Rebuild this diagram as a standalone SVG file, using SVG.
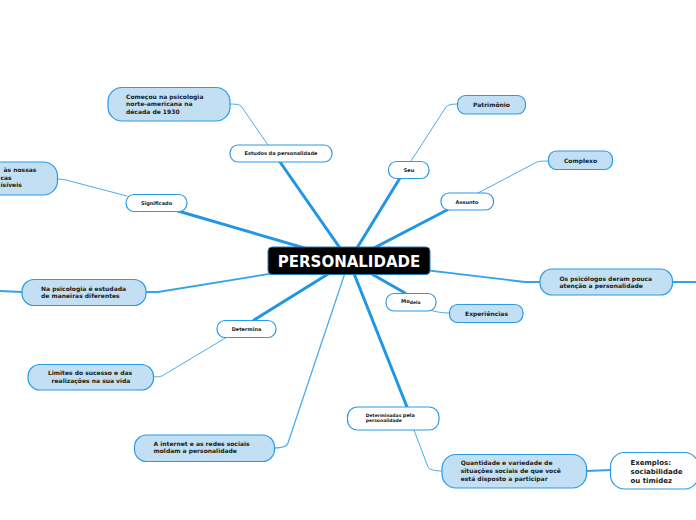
<svg xmlns="http://www.w3.org/2000/svg" width="696" height="520" viewBox="0 0 696 520">
<style>
text{font-family:"DejaVu Sans",Verdana,sans-serif;font-weight:bold;fill:#1a1a1a}
.main{fill:none;stroke:#2196e3;stroke-width:3;stroke-linecap:round}
.mid{fill:none;stroke:#35a2e8;stroke-width:1.8;stroke-linecap:round}
.sub{fill:none;stroke:#4aaeea;stroke-width:1;stroke-linecap:round}
.blue{fill:#c2dff3;stroke:#2b9be3;stroke-width:1.2}
.white{fill:#fff;stroke:#2b9be3;stroke-width:1.2}
.t6{font-size:6px}
.t5{font-size:5px}
.t7{font-size:7px}
.c{text-anchor:middle}
</style>
<rect width="696" height="520" fill="#fff"/>
<g id="connectors">
<line class="main" x1="349" y1="261" x2="280" y2="162"/>
<line class="main" x1="349" y1="261" x2="178" y2="211"/>
<line class="main" x1="349" y1="261" x2="400" y2="178"/>
<line class="main" x1="349" y1="261" x2="447" y2="210"/>
<line class="main" x1="349" y1="261" x2="254" y2="320"/>
<line class="main" x1="349" y1="261" x2="405" y2="293"/>
<line class="main" x1="349" y1="261" x2="407" y2="407"/>
<path class="mid" d="M349 261 L525 282 L540 282"/>
<path class="mid" d="M349 261 L158 292 L146 292"/>
<path class="sub" style="stroke-width:1.3" d="M349 261 L288 443 Q286 448 275 448"/>
<line class="mid" x1="673" y1="282" x2="696" y2="282"/>
<line class="mid" x1="22" y1="292" x2="0" y2="291"/>
<path class="sub" d="M268 145 L241 106 Q239 104 230 104"/>
<path class="sub" d="M127 196 L66 180 Q63 179 57 179"/>
<path class="sub" d="M411 161 L446 107 Q448 104 457 104"/>
<path class="sub" d="M478 193 L537 162 Q539 161 548 161"/>
<path class="sub" d="M227 337 L162 376 Q160 377 153 377"/>
<path class="sub" d="M428 309 Q436 313 450 313"/>
<path class="sub" d="M414 430 L428 467 Q430 471 442 471"/>
<path class="mid" d="M586 471 L611 470"/>
</g>
<g id="center">
<rect x="268" y="247" width="162" height="27.5" rx="4" fill="#000" stroke="#2b7fc0" stroke-width="1"/>
<text x="349" y="267" font-size="15" class="c" style="fill:#fff">PERSONALIDADE</text>
</g>
<g id="n-estudos">
<rect class="white" x="230" y="145" width="102" height="17" rx="8"/>
<text class="t5 c" x="281" y="155">Estudos da personalidade</text>
</g>
<g id="n-comecou">
<rect class="blue" x="108" y="87.5" width="122" height="33.5" rx="14"/>
<text class="t6" x="126"><tspan x="126" y="98.5">Começou na psicologia</tspan><tspan x="126" y="106.2">norte-americana na</tspan><tspan x="126" y="114">década de 1930</tspan></text>
</g>
<g id="n-significado">
<rect class="white" x="126" y="194.5" width="61" height="17" rx="8"/>
<text class="t5 c" x="156.5" y="204.7">Significado</text>
</g>
<g id="n-left">
<rect class="blue" x="-80" y="162" width="137.5" height="33" rx="14"/>
<text class="t6"><tspan x="3.5" y="172">às nossas</tspan><tspan x="0.5" y="179.6">cas</tspan><tspan x="0.5" y="187.2">ísíveis</tspan></text>
</g>
<g id="n-seu">
<rect class="white" x="388.5" y="161.5" width="40.5" height="17" rx="8"/>
<text class="t5 c" x="409" y="171.8">Seu</text>
</g>
<g id="n-patrimonio">
<rect class="blue" x="457.5" y="95.5" width="68" height="18.5" rx="8"/>
<text class="t6 c" x="491.5" y="106.8">Patrimônio</text>
</g>
<g id="n-assunto">
<rect class="white" x="441" y="193" width="52.5" height="17" rx="8"/>
<text class="t5 c" x="467" y="203.8">Assunto</text>
</g>
<g id="n-complexo">
<rect class="blue" x="548.5" y="151" width="64" height="18.5" rx="8"/>
<text class="t6 c" x="580.5" y="162.6">Complexo</text>
</g>
<g id="n-psicologos">
<rect class="blue" x="540" y="269" width="132.5" height="26" rx="12"/>
<text class="t6"><tspan x="559.5" y="280.6">Os psicólogos deram pouca</tspan><tspan x="559.5" y="288.2">atenção a personalidade</tspan></text>
</g>
<g id="n-napsicologia">
<rect class="blue" x="22" y="279.5" width="124" height="26" rx="12"/>
<text class="t6"><tspan x="41" y="290.8">Na psicologia é estudada</tspan><tspan x="41" y="298">de maneiras diferentes</tspan></text>
</g>
<g id="n-modela">
<rect class="white" x="386" y="293.5" width="50" height="17.5" rx="8"/>
<text x="401" y="303"><tspan font-size="5.2">Mo</tspan><tspan font-size="4.5" dy="0.6">dela</tspan></text>
</g>
<g id="n-experiencias">
<rect class="blue" x="449.5" y="304.5" width="73.5" height="18" rx="8"/>
<text class="t6 c" x="486.5" y="315.6">Experiências</text>
</g>
<g id="n-determina">
<rect class="white" x="217" y="320.5" width="59" height="17" rx="8"/>
<text class="t5 c" x="246.5" y="330.8">Determina</text>
</g>
<g id="n-limites">
<rect class="blue" x="28" y="364.5" width="125.5" height="25.5" rx="12"/>
<text class="t6 c"><tspan x="90" y="375.4">Limites do sucesso e das</tspan><tspan x="91" y="382.6">realizações na sua vida</tspan></text>
</g>
<g id="n-internet">
<rect class="blue" x="134.5" y="435" width="140" height="26.5" rx="12"/>
<text class="t6"><tspan x="153.5" y="446">A internet e as redes sociais</tspan><tspan x="153.5" y="453.2">moldam a personalidade</tspan></text>
</g>
<g id="n-determinadas">
<rect class="white" x="347.5" y="407" width="91.5" height="23" rx="10"/>
<text x="365.7" y="416.5"><tspan font-size="4.5">Determinadas</tspan><tspan font-size="5" dx="1.5" dy="0.8">pela</tspan></text>
<text x="365.7" y="422.3" font-size="4.5">personalidade</text>
</g>
<g id="n-quantidade">
<rect class="blue" x="442" y="454.5" width="144.5" height="33.5" rx="14"/>
<text class="t6"><tspan x="460.7" y="464.8">Quantidade e variedade de</tspan><tspan x="460.7" y="472.9">situações sociais de que você</tspan><tspan x="460.7" y="481">está disposto a participar</tspan></text>
</g>
<g id="n-exemplos">
<rect class="white" x="610.5" y="452.5" width="88" height="36.5" rx="14"/>
<text class="t7"><tspan x="630.5" y="464.8">Exemplos:</tspan><tspan x="630.5" y="474.2">sociabilidade</tspan><tspan x="630.5" y="482.6">ou timidez</tspan></text>
</g>
</svg>
